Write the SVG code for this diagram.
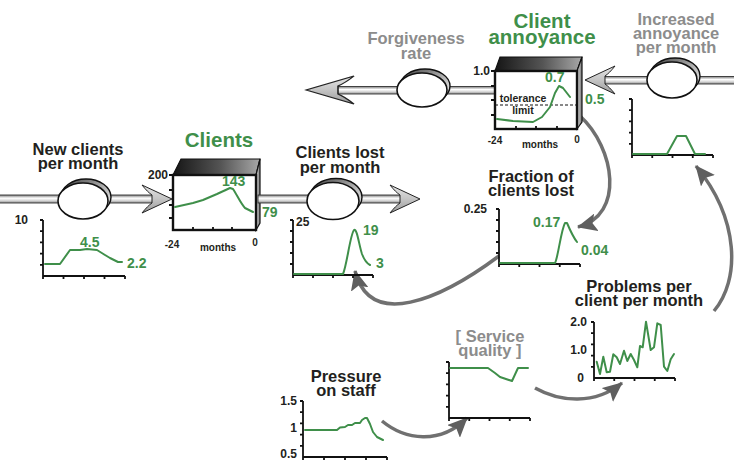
<svg xmlns="http://www.w3.org/2000/svg" width="734" height="461" viewBox="0 0 734 461">
<style>
text{font-family:"Liberation Sans",Arial,Helvetica,sans-serif;font-weight:bold}
.lbl{font-size:16.5px;fill:#231f20;text-anchor:middle}
.gry{font-size:16.5px;fill:#8c8c8c;text-anchor:middle}
.big{font-size:20.5px;fill:#3f8f4a;text-anchor:middle}
.ax{font-size:12px;fill:#231f20}
.val{font-size:14px;fill:#3f8f4a}
.sm{font-size:10px;fill:#231f20}
.axis{fill:none;stroke:#111;stroke-width:1.8}
.gline{fill:none;stroke:#3f8f4a;stroke-width:2;stroke-linejoin:round;stroke-linecap:round}
.conn{fill:none;stroke:#707070;stroke-width:3.5;marker-end:url(#ah)}
.pipe{fill:url(#pipeG);stroke:#333;stroke-width:0.9}
.head{fill:url(#headG);stroke:#222;stroke-width:1}
.cap{fill:url(#capG);stroke:#111;stroke-width:1.4}
.valve{fill:#fff;stroke:#111;stroke-width:1.6}
.front{fill:#fff;stroke:#111;stroke-width:2.4}
.top{fill:url(#topG);stroke:#111;stroke-width:1.2}
.side{fill:url(#sideG);stroke:#111;stroke-width:1.2}
</style>
<defs>
<linearGradient id="pipeG" x1="0" y1="0" x2="0" y2="1"><stop offset="0" stop-color="#7a7a7a"/><stop offset="0.4" stop-color="#ffffff"/><stop offset="0.7" stop-color="#d6d6d6"/><stop offset="1" stop-color="#8a8a8a"/></linearGradient>
<linearGradient id="headG" x1="0" y1="0" x2="0" y2="1"><stop offset="0" stop-color="#e6e6e6"/><stop offset="0.5" stop-color="#c4c4c4"/><stop offset="1" stop-color="#9a9a9a"/></linearGradient>
<linearGradient id="capG" x1="0" y1="0" x2="1" y2="1"><stop offset="0" stop-color="#3c3c3c"/><stop offset="0.6" stop-color="#bdbdbd"/><stop offset="1" stop-color="#ffffff"/></linearGradient>
<linearGradient id="topG" x1="0" y1="0" x2="1" y2="0"><stop offset="0" stop-color="#151515"/><stop offset="0.55" stop-color="#555"/><stop offset="1" stop-color="#a8a8a8"/></linearGradient>
<linearGradient id="sideG" x1="0" y1="0" x2="1" y2="0"><stop offset="0" stop-color="#d8d8d8"/><stop offset="1" stop-color="#7a7a7a"/></linearGradient>
<path id="hd" d="M0,0 L-30,-14 C-26,-9 -23,-6 -20,-4 L-20,4 C-23,6 -26,9 -30,14 Z"/>
<marker id="ah" viewBox="0 0 20 18" markerWidth="20" markerHeight="18" refX="19" refY="9" orient="auto" markerUnits="userSpaceOnUse"><path d="M0,0 L20,9 L0,18 L4,9 Z" fill="#5f5f5f"/></marker>
</defs>

<g id="connectors">
<path class="conn" d="M580,116 C615,148 625,215 578,227"/>
<path class="conn" d="M499,256 C440,300 370,330 355,271"/>
<path class="conn" d="M382,421 C405,440 440,445 467,418"/>
<path class="conn" d="M535,388 C560,402 595,405 622,383"/>
<path class="conn" d="M714,311 C740,280 740,220 696,166"/>
</g>

<g id="flow-new-clients">
<rect class="pipe" x="-5" y="195" width="160" height="8"/>
<use href="#hd" class="head" transform="translate(172,199)"/>
<ellipse class="cap" cx="86" cy="197" rx="25" ry="18"/>
<ellipse class="valve" cx="83" cy="201" rx="25" ry="18"/>
<text class="lbl" x="78" y="155">New clients<tspan x="78" dy="14">per month</tspan></text>
<path class="axis" d="M43,220V276H125M40,220H43M40,231.2H43M40,242.4H43M40,253.6H43M40,264.8H43M43,276V279M63.5,276V279M84,276V279M104.5,276V279M125,276V279"/>
<text class="ax" x="28" y="224" text-anchor="end">10</text>
<path class="gline" d="M45,264 L60,264 L70,250 L80,250 L87,249 L97,250 L105,255 L110,258 L118,262 L122,262"/>
<text class="val" x="80" y="247">4.5</text>
<text class="val" x="127" y="268">2.2</text>
</g>

<g id="stock-clients">
<polygon class="top" points="173,175 181,159 260,159 256,175"/>
<polygon class="side" points="256,175 260,159 260,223 256,230"/>
<rect class="front" x="173" y="175" width="83" height="55"/>
<path class="axis" d="M169,175H173M169,190H173M169,205H173M169,218H173M193,230V227M213,230V227M232,230V227"/>
<path class="gline" d="M175,207 L193,203 L203,200 L217,194 L230,188 L233,189 C237,195 241,204 245,208 L253,212"/>
<text class="big" x="219" y="147">Clients</text>
<text class="ax" x="168" y="179" text-anchor="end">200</text>
<text class="val" x="222" y="186">143</text>
<text class="val" x="262" y="217">79</text>
<text class="sm" x="172" y="248" text-anchor="middle">-24</text>
<text class="sm" x="255" y="246" text-anchor="middle">0</text>
<text class="sm" x="218" y="251" text-anchor="middle">months</text>
</g>

<g id="flow-clients-lost">
<rect class="pipe" x="258" y="195" width="145" height="8"/>
<use href="#hd" class="head" transform="translate(420,199)"/>
<ellipse class="cap" cx="336" cy="197" rx="26" ry="18.5"/>
<ellipse class="valve" cx="333" cy="201" rx="26" ry="18.5"/>
<text class="lbl" x="340" y="158">Clients lost<tspan x="340" dy="15">per month</tspan></text>
<path class="axis" d="M293,220V275H373M290,220H293M290,231H293M290,242H293M290,253H293M290,264H293M293,275V278M313,275V278M333,275V278M353,275V278M373,275V278"/>
<text class="ax" x="296" y="226">25</text>
<path class="gline" d="M294,274 L343,274 C347,265 350,235 354,230 C357,228 359,245 362,254 C365,262 368,264 370,265"/>
<text class="val" x="363" y="235">19</text>
<text class="val" x="376" y="268">3</text>
</g>

<g id="flow-forgiveness">
<rect class="pipe" x="335" y="86.5" width="161" height="7.5"/>
<use href="#hd" class="head" transform="translate(306,90) scale(-1.6,1)"/>
<ellipse class="cap" cx="425" cy="86" rx="25" ry="17"/>
<ellipse class="valve" cx="422" cy="90" rx="25" ry="17"/>
<text class="gry" x="416" y="44">Forgiveness<tspan x="416" dy="15">rate</tspan></text>
</g>

<g id="stock-client-annoyance">
<polygon class="top" points="495,71 500,57 582,57 577,71"/>
<polygon class="side" points="577,71 582,57 582,122 577,129"/>
<rect class="front" x="495" y="71" width="82" height="58"/>
<path class="axis" d="M491,71H495M491,86H495M491,100H495M491,115H495M516,129V126M536,129V126M557,129V126"/>
<line x1="495" y1="105" x2="577" y2="105" stroke="#111" stroke-width="1" stroke-dasharray="3,2"/>
<text class="sm" x="523" y="102" text-anchor="middle" style="font-size:10.5px">tolerance<tspan x="523" dy="12">limit</tspan></text>
<path class="gline" d="M497,119 L513,121 L533,122 L542,117 L550,107 L555,93 L559,86 L563,88 L570,97"/>
<text class="big" x="542" y="28">Client<tspan x="542" dy="16">annoyance</tspan></text>
<text class="ax" x="490" y="75" text-anchor="end">1.0</text>
<text class="val" x="545" y="82">0.7</text>
<text class="val" x="585" y="104">0.5</text>
<text class="sm" x="495" y="144" text-anchor="middle">-24</text>
<text class="sm" x="577" y="143" text-anchor="middle">0</text>
<text class="sm" x="540" y="148" text-anchor="middle">months</text>
</g>

<g id="flow-increased-annoyance">
<rect class="pipe" x="603" y="76.5" width="135" height="7.5"/>
<use href="#hd" class="head" transform="translate(585,80) scale(-1,1)"/>
<ellipse class="cap" cx="675" cy="76" rx="25" ry="18"/>
<ellipse class="valve" cx="672" cy="80" rx="25" ry="18"/>
<text class="gry" x="676" y="25">Increased<tspan x="676" dy="14">annoyance</tspan><tspan x="676" dy="14">per month</tspan></text>
<path class="axis" d="M632,99V155H713M629,99H632M629,110.2H632M629,121.4H632M629,132.6H632M629,143.8H632M632,155V158M652.25,155V158M672.5,155V158M692.75,155V158M713,155V158"/>
<path class="gline" d="M633,154 L667,154 L677,136 L686,136 L695,154 L705,154"/>
</g>

<g id="fraction-clients-lost">
<text class="lbl" x="531" y="182">Fraction of<tspan x="531" dy="13.5">clients lost</tspan></text>
<path class="axis" d="M499,209V264H580M496,209H499M496,220H499M496,231H499M496,242H499M496,253H499M499,264V267M519.25,264V267M539.5,264V267M559.75,264V267M580,264V267"/>
<text class="ax" x="487" y="213" text-anchor="end">0.25</text>
<path class="gline" d="M500,263 L555,263 C558,258 561,230 565,223 L567,223 C570,230 573,237 577,242"/>
<text class="val" x="533" y="227">0.17</text>
<text class="val" x="581" y="255">0.04</text>
</g>

<g id="pressure-on-staff">
<text class="lbl" x="346" y="382">Pressure<tspan x="346" dy="13.5">on staff</tspan></text>
<path class="axis" d="M303,401V457H387M300,401H303M300,412.2H303M300,423.4H303M300,434.6H303M300,445.8H303M303,457V460M324,457V460M345,457V460M366,457V460M387,457V460"/>
<text class="ax" x="297" y="405" text-anchor="end">1.5</text>
<text class="ax" x="297" y="432" text-anchor="end">1</text>
<text class="ax" x="297" y="458" text-anchor="end">0.5</text>
<path class="gline" d="M305,430 L337,430 L340,427.5 L345,427 L348,425 L352,425 L355,423 L360,423 L362,420 L365,418 L367,418 L370,424 L373,432 L377,437 L383,440"/>
</g>

<g id="service-quality">
<text class="gry" x="490" y="342">[ Service<tspan x="490" dy="13.5">quality ]</tspan></text>
<path class="axis" d="M449,362V418H530M446,362H449M446,373.2H449M446,384.4H449M446,395.6H449M446,406.8H449M449,418V421M469.25,418V421M489.5,418V421M509.75,418V421M530,418V421"/>
<path class="gline" d="M450,368 L488,368 L495,373 L500,377 L512,381 L518,368 L528,368"/>
</g>

<g id="problems-per-client">
<text class="lbl" x="639" y="292">Problems per<tspan x="639" dy="14">client per month</tspan></text>
<path class="axis" d="M594,322V378H675M591,322H594M591,333.2H594M591,344.4H594M591,355.6H594M591,366.8H594M594,378V381M614.25,378V381M634.5,378V381M654.75,378V381M675,378V381"/>
<text class="ax" x="587" y="326" text-anchor="end">2.0</text>
<text class="ax" x="587" y="354" text-anchor="end">1.0</text>
<text class="ax" x="584" y="382" text-anchor="end">0</text>
<path class="gline" d="M596.7,361.7 L600,374 L603.3,356.7 L606.7,372.3 L610,371.7 L613.3,354.3 L616.7,357.3 L620,364 L624,350.7 L627.3,361 L630.7,354 L634,360 L637.3,367.3 L640,346 L642.7,347.3 L646,321.7 L650.7,350 L654,347.3 L657.3,323.3 L660.7,325 L664,366.7 L667.3,371 L670.7,359.3 L674,354"/>
</g>
</svg>
